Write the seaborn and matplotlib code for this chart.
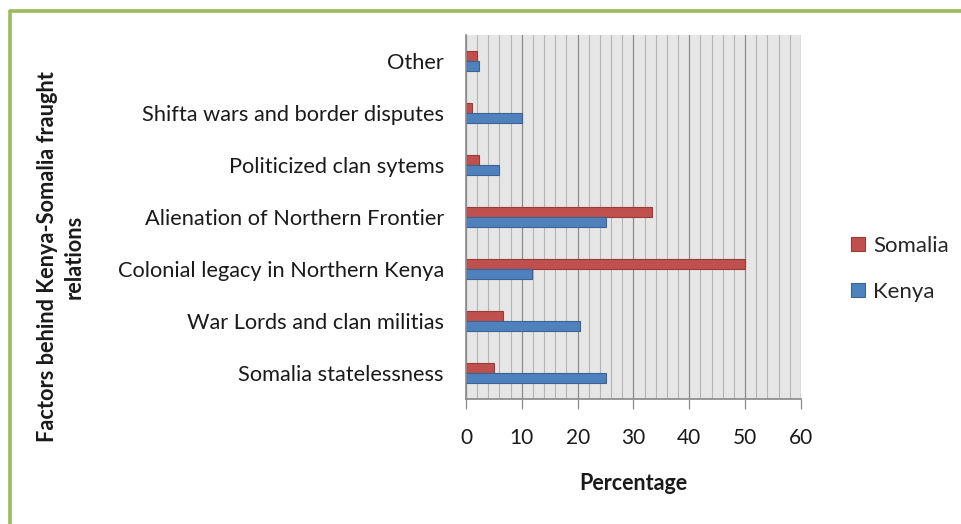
import matplotlib
matplotlib.use("Agg")
import matplotlib.pyplot as plt
import seaborn as sns
import pandas as pd
from matplotlib.ticker import MultipleLocator
from matplotlib.lines import Line2D

categories = [
    "Other",
    "Shifta wars and border disputes",
    "Politicized clan sytems",
    "Alienation of Northern Frontier",
    "Colonial legacy in Northern Kenya",
    "War Lords and clan militias",
    "Somalia statelessness",
]
somalia = [2.0, 1.1, 2.3, 33.3, 50.0, 6.7, 5.0]
kenya = [2.3, 10.0, 6.0, 25.0, 11.9, 20.5, 25.0]
series = ["Somalia", "Kenya"]
x_ticks = [0, 10, 20, 30, 40, 50, 60]

df = pd.DataFrame({
    "Factor": categories * 2,
    "Percentage": somalia + kenya,
    "Country": ["Somalia"] * len(categories) + ["Kenya"] * len(categories),
})

sns.set_theme(style="white")
plt.rcParams["font.family"] = ["Lato", "DejaVu Sans"]

fig = plt.figure(figsize=(9.62, 5.24), dpi=100)
ax = fig.add_axes([0.4844, 0.2385, 0.3482, 0.6947])

palette = {"Somalia": "#C0504D", "Kenya": "#4F81BD"}
sns.barplot(data=df, y="Factor", x="Percentage", hue="Country",
            hue_order=series, order=categories, palette=palette,
            orient="h", width=0.39, ax=ax, legend=False,
            saturation=1.0)

edge = {"Somalia": "#9A3B38", "Kenya": "#3B6496"}
for cont, name in zip(ax.containers, series):
    for p in cont:
        p.set_edgecolor(edge[name])
        p.set_linewidth(0.8)
        p.set_zorder(3)

ax.set_facecolor("#E6E6E6")
ax.set_xlim(0, 60)
ax.set_xticks(x_ticks)
ax.xaxis.set_minor_locator(MultipleLocator(2))
ax.grid(axis="x", which="minor", color="#B4B4B4", linewidth=0.8, zorder=1)
ax.grid(axis="x", which="major", color="#8C8C8C", linewidth=0.9, zorder=1)
ax.set_axisbelow(True)

for s in ["top", "right"]:
    ax.spines[s].set_visible(False)
ax.spines["left"].set_color("#8C8C8C")
ax.spines["bottom"].set_color("#8C8C8C")
ax.spines["left"].set_zorder(4)

ax.tick_params(axis="x", which="major", length=7, width=0.9, color="#8C8C8C",
               direction="out", bottom=True, labelsize=15, pad=14,
               labelcolor="#1a1a1a")
ax.tick_params(axis="x", which="minor", length=0)
ax.tick_params(axis="y", length=0, labelsize=15.7, pad=16, labelcolor="#1a1a1a")

ax.set_xlabel("Percentage", fontsize=15.5, fontweight="bold", labelpad=18,
              color="#1a1a1a")
ax.set_ylabel("")
fig.text(0.063, 0.51, "Factors behind Kenya-Somalia fraught\nrelations",
         rotation=90, ha="center", va="center", fontsize=15.7,
         fontweight="bold", color="#1a1a1a", multialignment="center",
         linespacing=1.3)

handles = [plt.Rectangle((0, 0), 1, 1, facecolor=palette[n],
                         edgecolor=edge[n], linewidth=0.8) for n in series]
fig.legend(handles, series, loc="center left",
           bbox_to_anchor=(0.864, 0.487), frameon=False, fontsize=16,
           handlelength=0.6, handleheight=0.6, handletextpad=0.4,
           labelspacing=1.15)

# green frame on top and left
fig.add_artist(Line2D([0.0095, 1.0], [1 - 10.5 / 524, 1 - 10.5 / 524],
                      transform=fig.transFigure, color="#9BBB59",
                      linewidth=2.6, solid_capstyle="butt"))
fig.add_artist(Line2D([9.5 / 962, 9.5 / 962], [0.0, 1 - 9.5 / 524],
                      transform=fig.transFigure, color="#9BBB59",
                      linewidth=2.6, solid_capstyle="butt"))

fig.savefig("out.png", dpi=100, facecolor="white")
